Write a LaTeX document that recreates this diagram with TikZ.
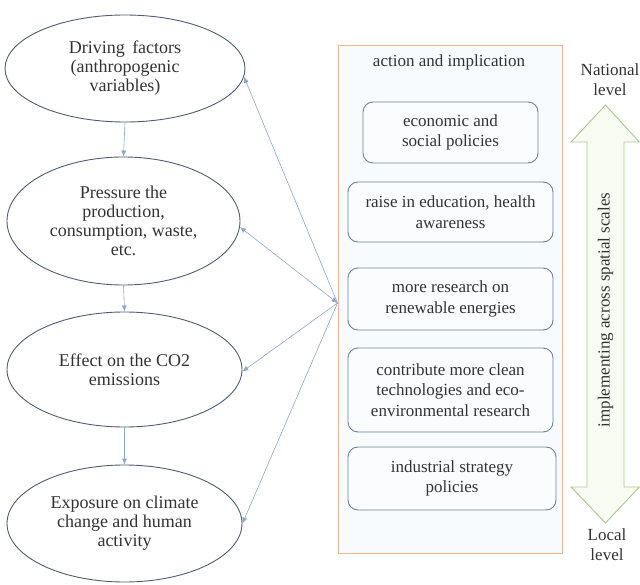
\documentclass[tikz,border=0pt]{standalone}
\usepackage{fontspec}
\setmainfont{Liberation Serif}
\usetikzlibrary{shapes.geometric,arrows.meta}
\definecolor{ellline}{HTML}{4E5D72}
\definecolor{conn}{HTML}{8AA6CC}
\definecolor{outerline}{HTML}{F2B493}
\definecolor{outerfill}{HTML}{F8FBFE}
\definecolor{boxline}{HTML}{6F8298}
\definecolor{boxfill}{HTML}{FBFCFE}
\definecolor{arrline}{HTML}{A9C98A}
\definecolor{arrfill}{HTML}{F7FBF2}
\definecolor{txt}{HTML}{333333}
\tikzset{
  ell/.style={ellipse,draw=ellline,line width=0.9pt,fill=white,inner sep=0pt,align=center,
    font=\fontsize{18}{19}\selectfont,text=txt},
  actbox/.style={rectangle,rounded corners=10pt,draw=boxline,line width=0.9pt,fill=boxfill,
    inner sep=0pt,align=center,font=\fontsize{17}{20.5}\selectfont,text=txt},
  lbl/.style={align=center,font=\fontsize{17}{20}\selectfont,text=txt,inner sep=0pt},
  conline/.style={draw=conn,line width=0.6pt,-{Latex[length=6pt,width=5pt]}},
}
\begin{document}
\begin{tikzpicture}[x=1pt,y=-1pt]
\useasboundingbox (0,0) rectangle (640,585);
% ellipses
\node[ell,minimum width=240,minimum height=107] (e1) at (125,68.5) {Driving\, factors\\(anthropogenic\\variables)};
\node[ell,minimum width=233,minimum height=128] (e2) at (123.5,221) {Pressure the\\production,\\consumption, waste,\\etc.};
\node[ell,minimum width=235,minimum height=115] (e3) at (124.5,369.5) {Effect on the CO2\\emissions};
\node[ell,minimum width=235,minimum height=117] (e4) at (124.5,523.5) {Exposure on climate\\change and human\\activity};
\draw[conline] (e1.south) -- (e2.north);
\draw[conline] (e2.south) -- (e3.north);
\draw[conline] (e3.south) -- (e4.north);
% outer box
\node[rectangle,draw=outerline,fill=outerfill,line width=0.9pt,minimum width=224,minimum height=508,inner sep=0pt] (outer) at (450,299) {};
\node[lbl] (title) at (449,62) {action and implication};
\node[actbox,minimum width=175,minimum height=61] (b1) at (450.5,132.5) {economic and\\social policies};
\node[actbox,minimum width=205,minimum height=60] (b2) at (450.5,212) {raise in education, health\\awareness};
\node[actbox,minimum width=205,minimum height=62] (b3) at (450.5,299) {more research on\\renewable energies};
\node[actbox,minimum width=205,minimum height=84] (b4) at (450.5,390) {contribute more clean\\technologies and eco-\\environmental research};
\node[actbox,minimum width=208,minimum height=63] (b5) at (452,478.5) {industrial strategy\\policies};
% convergence
\coordinate (c) at (337.5,303);
\draw[conline] (c) -- (e1.-4);
\draw[conline,{Latex[length=6pt,width=5pt]}-{Latex[length=6pt,width=5pt]}] (c) -- (e2.-3);
\draw[conline] (c) -- (e3.-1);
\draw[conline] (c) -- (e4.east);
% double arrow
\draw[draw=arrline,fill=arrfill,line width=0.9pt]
  (605.5,105) -- (639.3,142) -- (624,142) -- (624,487) -- (639.3,487) -- (605.5,523)
  -- (571,487) -- (587,487) -- (587,142) -- (571,142) -- cycle;
\node[lbl,rotate=90] (scale) at (605.5,310) {implementing across spatial scales};
\node[lbl] (nat) at (610,80) {National\\level};
\node[lbl] (loc) at (607,545) {Local\\level};
\end{tikzpicture}
\end{document}
